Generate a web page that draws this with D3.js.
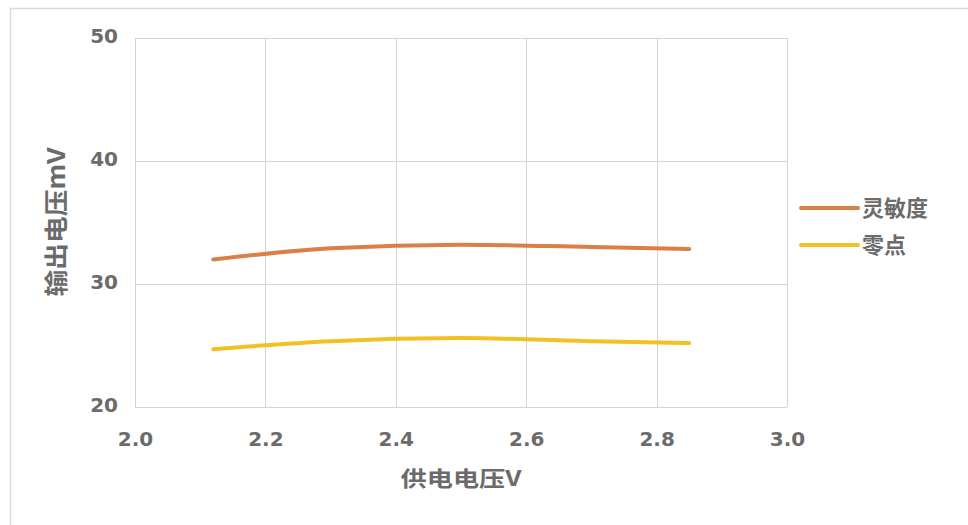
<!DOCTYPE html>
<html>
<head>
<meta charset="utf-8">
<script src="https://cdn.jsdelivr.net/npm/d3@7"></script>
<style>
  html, body { margin: 0; padding: 0; background: #fff; }
  svg { display: block; }
</style>
</head>
<body>
<svg id="chart" width="968" height="525"></svg>
<script>
// ---- data ----
const xValues = [2.12, 2.3, 2.5, 2.7, 2.85];
const sensitivity = [32.0, 32.9, 33.2, 33.0, 32.85];
const zeroPoint = [24.7, 25.35, 25.6, 25.35, 25.2];
const seriesNames = ["灵敏度", "零点"];
const seriesColors = ["#DA7F48", "#F1C024"];
const xTicks = [2.0, 2.2, 2.4, 2.6, 2.8, 3.0];
const yTicks = [20, 30, 40, 50];
const xTitle = "供电电压V";
const yTitle = "输出电压mV";

(function () {
const svg = d3.select("#chart");
const W = 968, H = 525;
const pLeft = 135, pRight = 787, pTop = 38, pBottom = 407;
const cjkFont = "'Noto Sans CJK SC', sans-serif";
const numFont = "'DejaVu Sans', 'Open Sans', sans-serif";
const textColor = "#6b6b6b";

// outer frame
svg.append("rect").attr("x", 10.5).attr("y", 8.5).attr("width", W).attr("height", H)
  .attr("fill", "#fff").attr("stroke", "#d9d9d9").attr("stroke-width", 1.5);

const x = d3.scaleLinear().domain([2.0, 3.0]).range([pLeft, pRight]);
const y = d3.scaleLinear().domain([20, 50]).range([pBottom, pTop]);

// gridlines
const grid = svg.append("g");
grid.selectAll("line.v").data(xTicks).join("line").attr("class", "v")
  .attr("x1", d => Math.round(x(d)) + 0.5).attr("x2", d => Math.round(x(d)) + 0.5)
  .attr("y1", pTop).attr("y2", pBottom)
  .attr("stroke", "#d4d4d4").attr("stroke-width", 1);
grid.selectAll("line.h").data(yTicks).join("line").attr("class", "h")
  .attr("y1", d => Math.round(y(d)) + 0.5).attr("y2", d => Math.round(y(d)) + 0.5)
  .attr("x1", pLeft).attr("x2", pRight)
  .attr("stroke", "#d4d4d4").attr("stroke-width", 1);

// tick labels via d3 axes (lines hidden)
const xAxis = svg.append("g").attr("transform", `translate(0,${pBottom})`)
  .call(d3.axisBottom(x).tickValues(xTicks).tickFormat(d3.format(".1f")).tickSize(0).tickPadding(25));
xAxis.select(".domain").remove();
xAxis.selectAll("text").attr("font-family", numFont).attr("font-size", 20)
  .attr("font-weight", "bold").attr("fill", textColor);

const yAxis = svg.append("g").attr("transform", `translate(${pLeft},0)`)
  .call(d3.axisLeft(y).tickValues(yTicks).tickFormat(d3.format("d")).tickSize(0).tickPadding(17));
yAxis.select(".domain").remove();
yAxis.selectAll("text").attr("font-family", numFont).attr("font-size", 20)
  .attr("font-weight", "bold").attr("fill", textColor).attr("dy", "0.22em");

// axis titles
svg.append("text").attr("x", 461).attr("y", 486).attr("text-anchor", "middle")
  .attr("font-family", cjkFont).attr("font-size", 21).attr("font-weight", "bold")
  .attr("textLength", 121).attr("lengthAdjust", "spacingAndGlyphs")
  .attr("fill", textColor).text(xTitle);
svg.append("text").attr("transform", "translate(65,222) rotate(-90)").attr("text-anchor", "middle")
  .attr("font-family", cjkFont).attr("font-size", 24).attr("font-weight", "bold")
  .attr("textLength", 149).attr("lengthAdjust", "spacingAndGlyphs")
  .attr("fill", textColor).text(yTitle);

// lines
const seriesData = [sensitivity, zeroPoint];
const line = d3.line().x((d, i) => x(xValues[i])).y(d => y(d)).curve(d3.curveMonotoneX);
svg.selectAll("path.series").data(seriesData).join("path")
  .attr("class", "series")
  .attr("d", d => line(d))
  .attr("fill", "none")
  .attr("stroke", (d, i) => seriesColors[i])
  .attr("stroke-width", 4)
  .attr("stroke-linecap", "round");

// legend
const legend = svg.append("g");
const legY = [208, 245];
seriesNames.forEach((name, i) => {
  legend.append("line").attr("x1", 801).attr("x2", 858)
    .attr("y1", legY[i]).attr("y2", legY[i])
    .attr("stroke", seriesColors[i]).attr("stroke-width", 4).attr("stroke-linecap", "round");
  legend.append("text").attr("x", 862).attr("y", legY[i]).attr("dy", "0.36em")
    .attr("font-family", cjkFont).attr("font-size", 22).attr("font-weight", "bold")
    .attr("fill", textColor).text(name);
});
})();
</script>
</body>
</html>
